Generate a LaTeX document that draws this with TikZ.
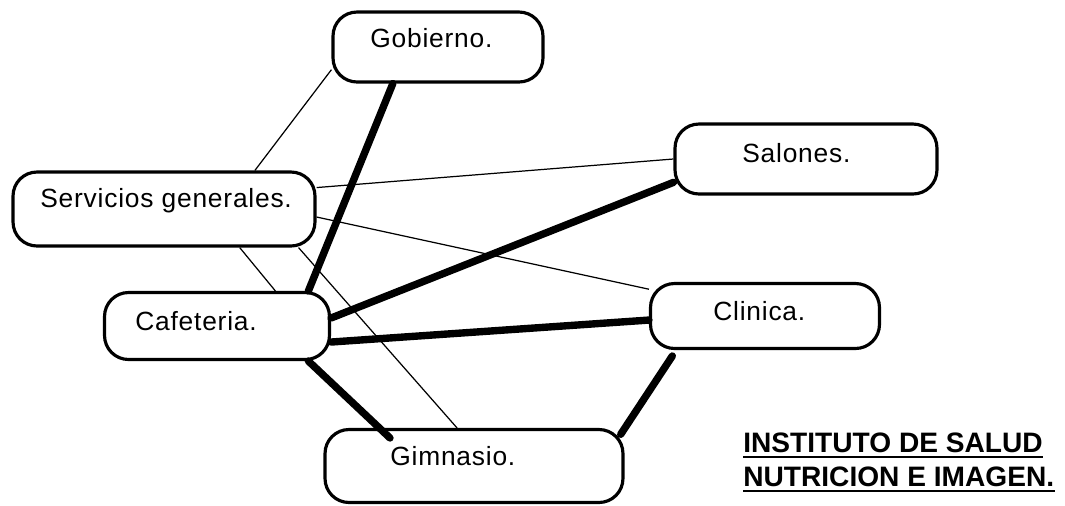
\documentclass[tikz,border=0pt]{standalone}
\usepackage{fontspec}
\setmainfont{Liberation Sans}
\newfontfamily\lblfont[LetterSpace=3]{Liberation Sans}

\begin{document}
\begin{tikzpicture}[x=0.02cm, y=-0.02cm,
    place/.style={draw, line width=1.8pt, rounded corners=0.48cm, inner sep=0pt},
    lbl/.style={anchor=base west, inner sep=0pt, font=\lblfont\fontsize{15}{17}\selectfont},
    title/.style={anchor=base west, inner sep=0pt, font=\bfseries\fontsize{16}{19}\selectfont},
    weak/.style={line width=0.7pt},
    strong/.style={line width=4.2pt, line cap=round}]
          \useasboundingbox (0,0) rectangle (1065,505);

          \node[place, minimum width=4.2cm, minimum height=1.4cm] (gob) at (438,47) {};
          \node[place, minimum width=6.04cm, minimum height=1.48cm] (serv) at (164,209) {};
          \node[place, minimum width=5.24cm, minimum height=1.4cm] (sal) at (806,159) {};
          \node[place, minimum width=4.58cm, minimum height=1.3cm] (cli) at (765,316) {};
          \node[place, minimum width=4.5cm, minimum height=1.34cm] (caf) at (217,326) {};
          \node[place, minimum width=5.96cm, minimum height=1.46cm] (gim) at (474,466) {};

          \node[lbl] (gobtxt) at (370,47) {Gobierno.};
          \node[lbl] (servtxt) at (40,207) {Servicios generales.};
          \node[lbl] (saltxt) at (742,162) {Salones.};
          \node[lbl] (clitxt) at (713,320) {Clinica.};
          \node[lbl] (caftxt) at (135,330) {Cafeteria.};
          \node[lbl] (gimtxt) at (390,465) {Gimnasio.};

          \node[title] (inst) at (743,452) {INSTITUTO DE SALUD};
          \node[title] (nutr) at (743,486) {NUTRICION E IMAGEN.};
          \draw[line width=1.1pt] ([yshift=-2.8pt]inst.base west) -- ([yshift=-2.8pt]inst.base east);
          \draw[line width=1.1pt] ([yshift=-2.8pt]nutr.base west) -- ([yshift=-2.8pt]nutr.base east);

          \coordinate (gimdot) at (390,438);

          % thin links
          \draw[weak] (gob.192) -- (serv.23);
          \draw[weak] (serv.8) -- (sal.180);
          \draw[weak] (serv.-3) -- (cli.167);
          \draw[weak] (serv.-27.5) -- (caf.31);
          \draw[weak] (serv.-16) -- (gim.114);

          % thick links
          \draw[strong] (gob.219) -- (caf.21);
          \draw[strong] (caf.4) -- (sal.190);
          \draw[strong] (caf.-8) -- (cli.182);
          \draw[strong] (caf.-21.6) -- (gimdot);
          \draw[strong, shorten <=4pt, shorten >=-4pt] (cli.201) -- (gim.14.8);

        \end{tikzpicture}
\end{document}
